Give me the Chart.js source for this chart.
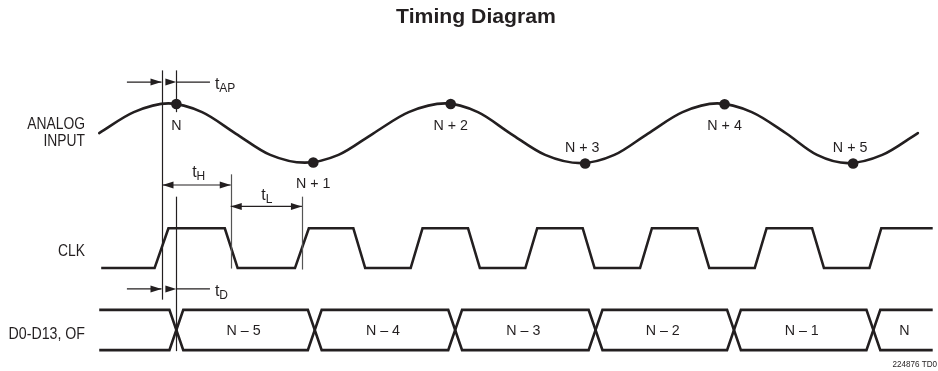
<!DOCTYPE html>
<html>
<head>
<meta charset="utf-8">
<script src="https://cdn.jsdelivr.net/npm/chart.js@4.4.0/dist/chart.umd.min.js"></script>
<style>
  html, body { margin: 0; padding: 0; background: #fff; }
</style>
</head>
<body>
<canvas id="timing" width="938" height="371"></canvas>
<script>
// ANALOG INPUT waveform (x = time, y = level, screen units)
const analogX = [95, 130, 165, 199, 233, 268, 303, 337, 372, 408, 445, 478, 511, 546,
  582, 616, 650, 685, 720, 755, 790, 821, 852, 887, 923];
const analogY = [131.5, 110, 101, 110, 132, 154, 162, 154, 132, 110, 101, 110, 132, 154,
  162.5, 154, 132, 110, 101, 110, 132, 154, 162.5, 154, 131.5];

// sample instants N .. N+5
const sampleX = [173, 311.5, 450.5, 586.5, 727.5, 857.5];
const sampleY = [101.6, 161.8, 101.6, 162.8, 101.8, 162.8];
const sampleLabels = ['N', 'N + 1', 'N + 2', 'N + 3', 'N + 4', 'N + 5'];
const sampleLabelSide = ['below', 'below', 'below', 'above', 'below', 'above'];

// CLK corners (time, 0 = low / 1 = high)
const clockX = [97, 151, 165, 222, 235, 293, 307, 352, 364, 410, 422, 468, 480, 526, 538,
  584, 596, 642, 654, 700, 712, 758, 770, 816, 828, 874, 886, 940];
const clockLevel = [0, 0, 1, 1, 0, 0, 1, 1, 0, 0, 1, 1, 0, 0, 1,
  1, 0, 0, 1, 1, 0, 0, 1, 1, 0, 0, 1, 1];

// D0-D13, OF bus transitions and data words
const busStart = 95;
const busEnd = 940;
const busEdges = [173, 313, 455, 597, 737, 878];
const busLabels = ['N \u2013 5', 'N \u2013 4', 'N \u2013 3', 'N \u2013 2', 'N \u2013 1', 'N'];

// levels on screen
const CLK_LOW = 270.5, CLK_HIGH = 229.5;
const BUS_TOP = 313.5, BUS_BOT = 355, BUS_HW = 7;

const clockData = clockX.map((x, i) => ({ x: x, y: clockLevel[i] ? CLK_HIGH : CLK_LOW }));

// two traces that cross at every transition -> hexagon bus drawing
let busA = [{ x: busStart, y: BUS_TOP }], busB = [{ x: busStart, y: BUS_BOT }];
let lvl = 0;
busEdges.forEach(e => {
  const a = lvl ? BUS_BOT : BUS_TOP, b = lvl ? BUS_TOP : BUS_BOT;
  busA.push({ x: e - BUS_HW, y: a }, { x: e + BUS_HW, y: b });
  busB.push({ x: e - BUS_HW, y: b }, { x: e + BUS_HW, y: a });
  lvl = 1 - lvl;
});
busA.push({ x: busEnd, y: busA[busA.length - 1].y });
busB.push({ x: busEnd, y: busB[busB.length - 1].y });

const INK = '#231f20';
const FONT = '"Liberation Sans", Arial, sans-serif';

const lineDs = (data, extra) => Object.assign({
  data: data, showLine: true, borderColor: INK, borderWidth: 2.6,
  pointRadius: 0, tension: 0, fill: false, borderJoinStyle: 'miter'
}, extra || {});

// text, optionally squeezed horizontally to mimic the condensed face
let txt = (ctx, s, x, y, size, align, bold, sx) => {
  sx = sx || 1;
  ctx.save();
  ctx.font = (bold ? 'bold ' : '') + size + 'px ' + FONT;
  ctx.textAlign = align || 'center';
  ctx.textBaseline = 'alphabetic';
  ctx.fillStyle = INK;
  ctx.translate(x, y);
  ctx.scale(sx, 1);
  ctx.fillText(s, 0, 0);
  ctx.restore();
};

let arrowHead = (ctx, x, y, dir) => {
  ctx.beginPath();
  ctx.moveTo(x, y);
  ctx.lineTo(x - dir * 11, y - 3.5);
  ctx.lineTo(x - dir * 11, y + 3.5);
  ctx.closePath();
  ctx.fill();
};

const notes = {
  id: 'notes',
  afterDatasetsDraw(chart) {
    const ctx = chart.ctx, X = chart.scales.x, Y = chart.scales.y;
    const px = v => X.getPixelForValue(v), py = v => Y.getPixelForValue(v);
    ctx.save();
    ctx.fillStyle = INK;

    // guide lines
    const vline = (x, y0, y1, col) => {
      ctx.strokeStyle = col; ctx.lineWidth = 1.2;
      ctx.beginPath(); ctx.moveTo(Math.round(px(x)) + 0.5, py(y0)); ctx.lineTo(Math.round(px(x)) + 0.5, py(y1)); ctx.stroke();
    };
    const t0 = 158, t1 = sampleX[0];
    vline(t0, 67, 303, INK);
    vline(t1, 67, 110, INK);
    vline(t1, 197, 356, INK);
    vline(228, 174, 271, '#555');
    vline(300, 197, 272, '#555');

    // arrows
    const hArrow = (xa, xb, y, headA, headB) => {
      ctx.strokeStyle = INK; ctx.lineWidth = 1.2;
      ctx.beginPath(); ctx.moveTo(px(xa), py(y)); ctx.lineTo(px(xb), py(y)); ctx.stroke();
      if (headA) arrowHead(ctx, px(xa), py(y), -1);
      if (headB) arrowHead(ctx, px(xb), py(y), 1);
    };
    hArrow(123, t0, 79, false, true);
    hArrow(207, t1, 79, false, true);
    hArrow(t0 + 1, 228, 185, true, true);
    hArrow(228, 300, 207, true, true);
    hArrow(123, t0, 292, false, true);
    hArrow(207, t1, 292, false, true);

    // t labels with subscripts
    const tLab = (sub, x, y) => {
      ctx.font = '16px ' + FONT;
      ctx.textAlign = 'left'; ctx.textBaseline = 'alphabetic';
      ctx.fillText('t', px(x), py(y));
      const w = ctx.measureText('t').width;
      ctx.font = '12px ' + FONT;
      ctx.fillText(sub, px(x) + w, py(y) + 3);
    };
    tLab('AP', 212, 86);
    tLab('H', 189, 177);
    tLab('L', 259, 200);
    tLab('D', 212, 299);

    // sample labels
    sampleX.forEach((x, i) => {
      const below = sampleLabelSide[i] === 'below';
      txt(ctx, sampleLabels[i], px(x) - (below ? 0 : 3), py(sampleY[i]) + (below ? 26 : -11), 15.5, 'center', false, 0.92);
    });

    // bus data words
    const ends = busEdges.slice(1).concat([busEnd + 2 * BUS_HW - 9]);
    busEdges.forEach((e, i) => {
      const cx = (e + BUS_HW + ends[i] - BUS_HW) / 2;
      txt(ctx, busLabels[i], px(cx) - 2, py(339), 15.5, 'center', false, 0.92);
    });

    // signal names
    txt(ctx, 'ANALOG', 85, 129, 16.5, 'right', false, 0.84);
    txt(ctx, 'INPUT', 85, 146, 16.5, 'right', false, 0.84);
    txt(ctx, 'CLK', 85, 256, 16.5, 'right', false, 0.84);
    txt(ctx, 'D0-D13, OF', 85, 339, 16.5, 'right', false, 0.86);

    txt(ctx, 'Timing Diagram', 476, 23, 20, 'center', true, 1.06);
    txt(ctx, '224876 TD0', 937, 367, 9, 'right', false, 0.9);
    ctx.restore();
  }
};

new Chart(document.getElementById('timing'), {
  type: 'scatter',
  data: {
    datasets: [
      lineDs(analogX.map((x, i) => ({ x: x, y: analogY[i] })), { cubicInterpolationMode: 'monotone', borderJoinStyle: 'round', borderCapStyle: 'round' }),
      { data: sampleX.map((x, i) => ({ x: x, y: sampleY[i] })), pointRadius: 5.3, pointBackgroundColor: INK, pointBorderWidth: 0, showLine: false },
      lineDs(clockData),
      lineDs(busA),
      lineDs(busB)
    ]
  },
  options: {
    responsive: false,
    animation: false,
    layout: { padding: 0 },
    plugins: { legend: { display: false }, tooltip: { enabled: false } },
    scales: {
      x: { type: 'linear', min: 0, max: 938, display: false },
      y: { type: 'linear', min: 0, max: 371, reverse: true, display: false }
    }
  },
  plugins: [notes]
});
</script>
</body>
</html>
